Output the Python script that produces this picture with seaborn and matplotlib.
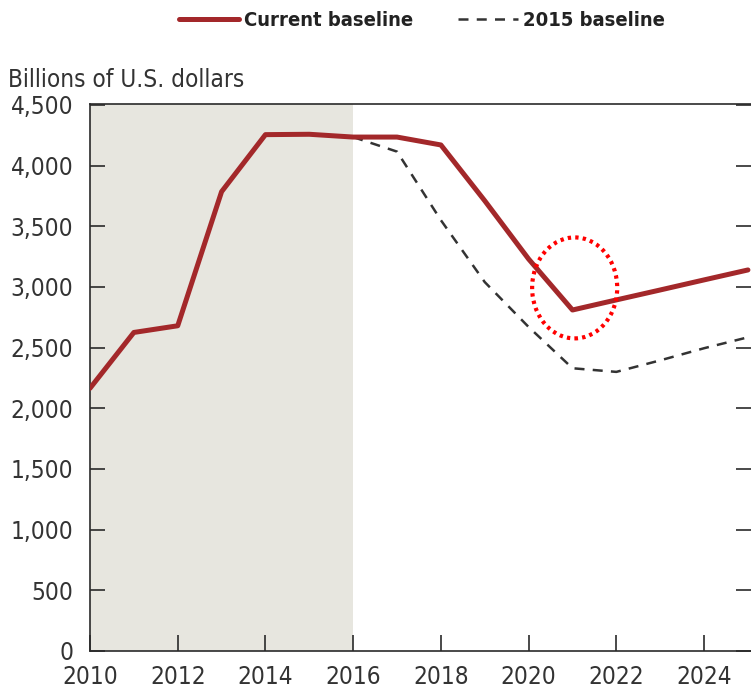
import matplotlib
matplotlib.use("Agg")
import matplotlib.pyplot as plt
from matplotlib import font_manager as fm
from matplotlib.patches import Ellipse
from matplotlib.ticker import FuncFormatter, MultipleLocator
import pandas as pd
import seaborn as sns

# Series values (billions of U.S. dollars)
years_current = list(range(2010, 2026))
current_baseline = [2165, 2625, 2680, 3785, 4255, 4258, 4235, 4235, 4170,
                    3710, 3230, 2810, 2893, 2975, 3058, 3140]

years_2015 = list(range(2016, 2026))
baseline_2015 = [4235, 4115, 3550, 3040, 2670, 2330, 2300, 2395, 2495, 2585]

series_labels = ["Current baseline", "2015 baseline"]
x_ticks = list(range(2010, 2025, 2))
history_span = (2010, 2016)
highlight_center = (2021.05, 2992)
highlight_size = (1.94, 832)

sns.set_style("ticks")


def pick_narrow_font():
    """Return (family, stretch) of an installed narrow sans face, or None."""
    for f in fm.fontManager.ttflist:
        tag = (f.name + " " + f.fname).lower()
        stretch = str(f.stretch).lower()
        if ("narrow" in tag or "condensed" in tag or "condensed" in stretch) \
                and f.style == "normal" and "mono" not in tag and "serif" not in f.name.lower():
            return f.name, f.stretch
    return None


narrow = pick_narrow_font()
if narrow is not None:
    plt.rcParams["font.family"] = [narrow[0], "DejaVu Sans"]
    plt.rcParams["font.stretch"] = narrow[1]
    BASE, YLAB, LEG = 17.5, 17.5, 14.5
else:
    plt.rcParams["font.family"] = ["Roboto", "DejaVu Sans"]
    BASE, YLAB, LEG = 16, 16, 13.5

TEXT = "#333333"
RED = "#A3282A"
SHADE = "#E7E6DF"

fig = plt.figure(figsize=(7.51, 6.98), dpi=100)
ax = fig.add_axes([90 / 751, 47 / 698, 1 - 90 / 751, (651 - 104.3) / 698])

ax.axvspan(*history_span, color=SHADE, lw=0, zorder=0)

df_cur = pd.DataFrame({"year": years_current, "value": current_baseline})
df_old = pd.DataFrame({"year": years_2015, "value": baseline_2015})

sns.lineplot(data=df_old, x="year", y="value", ax=ax, color="#333333",
             lw=1.8, zorder=2, label=series_labels[1])
ax.lines[-1].set_dashes((4.0, 3.3))
sns.lineplot(data=df_cur, x="year", y="value", ax=ax, color=RED,
             lw=3.6, zorder=3, label=series_labels[0])

ax.add_patch(Ellipse(highlight_center, highlight_size[0], highlight_size[1],
                     fill=False, edgecolor="#FF0000", lw=3,
                     linestyle=(0, (0.8, 1.0)), zorder=4))

ax.set_xlim(2010, 2025.07)
ax.set_ylim(0, 4505)
ax.set_xticks(x_ticks)
ax.yaxis.set_major_locator(MultipleLocator(500))
ax.yaxis.set_major_formatter(FuncFormatter(lambda v, _: f"{int(v):,}"))
ax.set_xlabel("")
ax.set_ylabel("")

for side in ("left", "bottom", "top"):
    ax.spines[side].set_color("#2a2a2a")
    ax.spines[side].set_linewidth(1.2)
ax.spines["right"].set_visible(False)

ax.tick_params(axis="y", direction="in", length=11, width=1.2, color="#2a2a2a",
               labelsize=BASE, labelcolor=TEXT, pad=12, left=True, right=True)
ax.tick_params(axis="x", direction="in", length=11.5, width=1.2, color="#2a2a2a",
               labelsize=BASE, labelcolor=TEXT, pad=10, top=False)

# keep the end labels of the value axis inside the plot frame
fig.canvas.draw()
ylabels = ax.get_yticklabels()
ylabels[0].set_va("bottom")
ylabels[-1].set_va("top")

ax.get_legend().remove()
handles, labels = ax.get_legend_handles_labels()
order = [labels.index(s) for s in series_labels]
leg = fig.legend([handles[i] for i in order], [labels[i] for i in order],
                 loc="center", bbox_to_anchor=(422 / 751, 1 - 21 / 698),
                 ncol=2, frameon=False, handlelength=3.0, handletextpad=0.25,
                 columnspacing=2.2, prop={"size": LEG, "weight": "bold"})
for t in leg.get_texts():
    t.set_color("#222222")

fig.text(8 / 751, 1 - 87 / 698, "Billions of U.S. dollars", fontsize=YLAB,
         color=TEXT, va="baseline", ha="left")

fig.savefig("out.png", dpi=100)
